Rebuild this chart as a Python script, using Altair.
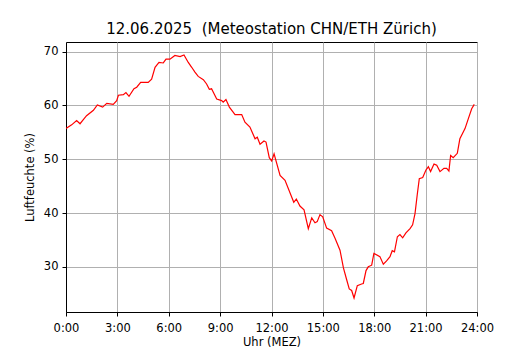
import altair as alt
import pandas as pd

hours = [0.0, 0.33, 0.62, 0.82, 1.0, 1.2, 1.6, 1.83, 2.14, 2.38, 2.76, 2.96, 3.06, 3.35, 3.5, 3.68,
         3.97, 4.13, 4.36, 4.8, 5.0, 5.2, 5.43, 5.68, 5.84, 6.07, 6.36, 6.66, 6.89, 7.14, 7.34,
         7.53, 7.72, 8.02, 8.21, 8.37, 8.5, 8.8, 9.09, 9.18, 9.34, 9.54, 9.87, 10.26, 10.45,
         10.74, 11.04, 11.17, 11.33, 11.56, 11.68, 11.87, 12.01, 12.15, 12.5, 12.79, 13.3,
         13.45, 13.66, 13.9, 14.15, 14.35, 14.54, 14.67, 14.83, 14.99, 15.22, 15.51, 15.71,
         16.0, 16.2, 16.39, 16.54, 16.68, 16.82, 17.01, 17.26, 17.36, 17.52, 17.65, 17.85,
         17.98, 18.33, 18.53, 18.72, 18.92, 19.05, 19.18, 19.35, 19.5, 19.66, 19.85, 20.09,
         20.24, 20.38, 20.51, 20.63, 20.83, 21.02, 21.16, 21.29, 21.49, 21.65, 21.84, 22.07,
         22.23, 22.36, 22.46, 22.61, 22.85, 23.0, 23.3, 23.49, 23.69, 23.84]
humidity = [55.7, 56.4, 57.2, 56.6, 57.3, 58.1, 59.1, 60.1, 59.7, 60.4, 60.2, 60.9, 61.9, 62.0, 62.4, 61.7,
            63.1, 63.4, 64.3, 64.3, 64.9, 67.1, 68.0, 67.9, 68.6, 68.6, 69.3, 69.1, 69.4, 68.0, 67.1,
            66.2, 65.4, 64.8, 64.0, 63.0, 63.1, 61.2, 60.9, 60.6, 61.1, 59.7, 58.3, 58.3, 56.9,
            56.0, 53.8, 54.1, 52.8, 53.4, 53.2, 50.3, 49.7, 51.0, 47.0, 46.1, 42.0,
            42.6, 41.3, 40.6, 37.1, 39.1, 38.2, 38.4, 39.7, 39.3, 37.2, 36.7, 35.3,
            33.1, 29.8, 27.6, 25.9, 25.6, 24.2, 26.5, 26.8, 26.9, 29.3, 30.0, 30.3,
            32.5, 31.9, 30.5, 31.1, 31.9, 33.0, 32.8, 35.6, 36.0, 35.4, 36.3, 37.1,
            37.8, 39.9, 43.4, 46.4, 46.6, 48.0, 48.6, 47.7, 49.1, 48.9, 47.7, 48.3,
            48.3, 47.8, 50.7, 50.3, 51.1, 53.8, 55.7, 57.5, 59.4, 60.2]
x_ticks = [0, 3, 6, 9, 12, 15, 18, 21, 24]
y_ticks = [30, 40, 50, 60, 70]

df = pd.DataFrame({"h": hours, "v": humidity})
FONT = "DejaVu Sans"

chart = alt.Chart(df).mark_line(color="red", strokeWidth=1.2, clip=True).encode(
    x=alt.X("h:Q", scale=alt.Scale(domain=[0, 24], nice=False, zero=False),
            axis=alt.Axis(values=x_ticks, title="Uhr (MEZ)",
                          labelExpr="format(datum.value, 'd') + ':00'",
                          labelFlush=False, labelOverlap=False,
                          labelPadding=6, titlePadding=3)),
    y=alt.Y("v:Q", scale=alt.Scale(domain=[21.6, 71.8], nice=False, zero=False),
            axis=alt.Axis(values=y_ticks, title="Luftfeuchte (%)", labelPadding=4,
                          labelFlush=False, labelOverlap=False, titlePadding=8)),
).properties(
    width=411, height=270,
    title=alt.TitleParams("12.06.2025 \u00a0(Meteostation CHN/ETH Zürich)", font=FONT,
                          fontSize=15, fontWeight="normal", color="black", offset=5),
    autosize=alt.AutoSizeParams(type="none"),
    padding={"left": 58, "top": 34, "right": 45, "bottom": 40},
).configure_view(
    stroke="black", strokeWidth=1
).configure_axis(
    domainColor="black", tickColor="black", tickSize=4, labelFont=FONT, titleFont=FONT,
    labelFontSize=11.5, titleFontSize=11.5, labelColor="black", titleColor="black",
    titleFontWeight="normal", gridColor="#b0b0b0", gridWidth=1, grid=True,
)

chart.save("out.html", embed_options={"renderer": "svg", "actions": False})
